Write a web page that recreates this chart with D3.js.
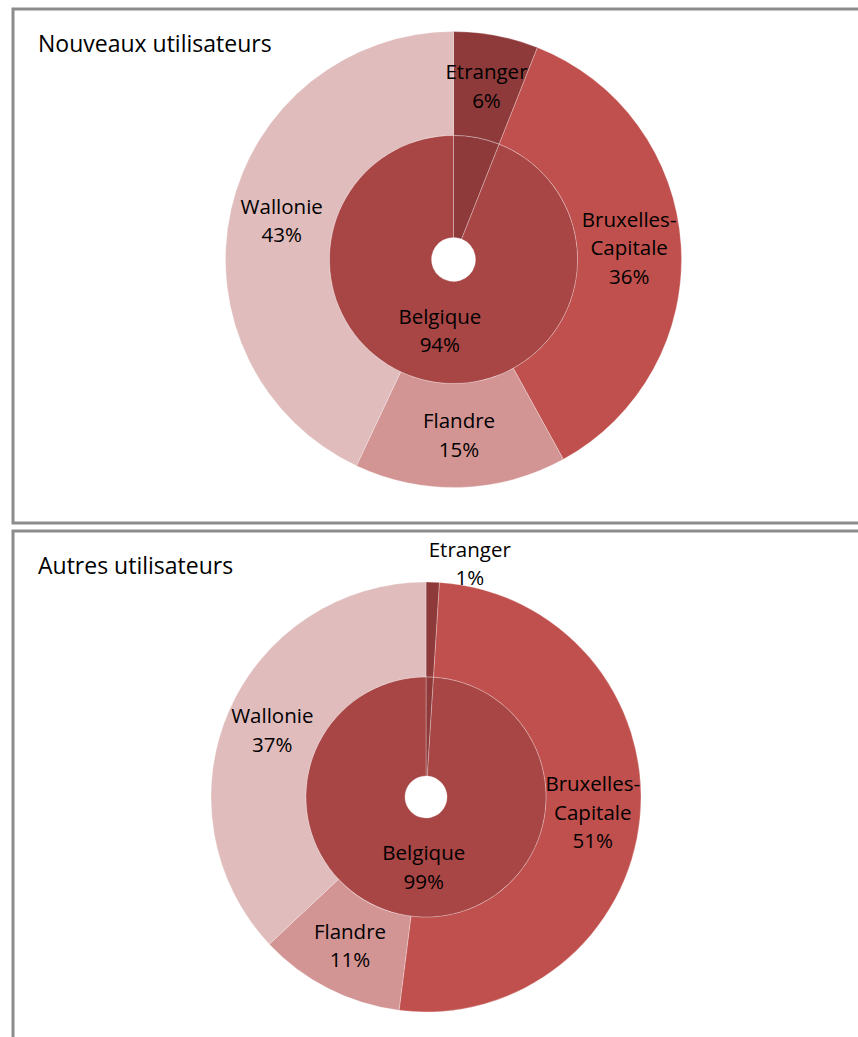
<!DOCTYPE html>
<html>
<head>
<meta charset="utf-8">
<script src="https://cdn.jsdelivr.net/npm/d3@7"></script>
<style>
  body { margin: 0; background: #fff; }
  svg { display: block; }
  text { font-family: "Open Sans", Lato, sans-serif; fill: #000; }
</style>
</head>
<body>
<div class="canvas"></div>
<script>
// page size
const w = 858;
const h = 1037;

// categories
const innerCats = ["Etranger", "Belgique"];
const outerCats = ["Etranger", "Bruxelles-Capitale", "Flandre", "Wallonie"];

// values (%)
const newInner = [6, 94];
const newOuter = [6, 36, 15, 43];
const otherInner = [1, 99];
const otherOuter = [1, 51, 11, 37];

// colors per category
const catColors = {
  "Etranger": "#8e3a3a",
  "Belgique": "#a84545",
  "Bruxelles-Capitale": "#c0504d",
  "Flandre": "#d39494",
  "Wallonie": "#e0bcbc"
};

// panel layouts
const panels = [
  { title: "Nouveaux utilisateurs", inner: newInner, outer: newOuter,
    frame: { x: 13, y: 9, h: 514 }, cx: 453.5, cy: 259.5, rOut: 228, rIn: 124, rHole: 22 },
  { title: "Autres utilisateurs", inner: otherInner, outer: otherOuter,
    frame: { x: 13, y: 531, h: 520 }, cx: 426, cy: 797, rOut: 215, rIn: 120, rHole: 21 }
];

const svg = d3.select(".canvas").append("svg").attr("width", w).attr("height", h);

const pie = d3.pie().sort(null).value(d => d.value);
const lineH = 28.5;

function splitLabel(name) {
  // Bruxelles-Capitale wraps after the hyphen
  return name.includes("-") ? [name.slice(0, name.indexOf("-") + 1), name.slice(name.indexOf("-") + 1)] : [name];
}

function drawLabel(g, x, y, lines) {
  const t = g.append("text")
    .attr("text-anchor", "middle")
    .attr("font-size", 20.5);
  const n = lines.length;
  lines.forEach((l, i) => {
    t.append("tspan")
      .attr("x", x)
      .attr("y", y + (i - (n - 1) / 2) * lineH + 7)
      .text(l);
  });
}

panels.forEach(p => {
  // frame
  svg.append("rect")
    .attr("x", p.frame.x)
    .attr("y", p.frame.y)
    .attr("width", w)
    .attr("height", p.frame.h)
    .attr("fill", "none")
    .attr("stroke", "#8c8c8c")
    .attr("stroke-width", 3);

  // title
  svg.append("text")
    .attr("x", 38)
    .attr("y", p.frame.y + 43)
    .attr("font-size", 23)
    .text(p.title);

  const g = svg.append("g").attr("transform", `translate(${p.cx}, ${p.cy})`);

  const outerData = pie(outerCats.map((c, i) => ({ cat: c, value: p.outer[i] })));
  const innerData = pie(innerCats.map((c, i) => ({ cat: c, value: p.inner[i] })));

  const outerArc = d3.arc().innerRadius(p.rIn).outerRadius(p.rOut);
  const innerArc = d3.arc().innerRadius(p.rHole).outerRadius(p.rIn);

  // outer ring
  g.selectAll("path.outer")
    .data(outerData)
    .enter()
    .append("path")
    .attr("class", "outer")
    .attr("d", outerArc)
    .attr("fill", d => catColors[d.data.cat])
    .attr("stroke", "#fff")
    .attr("stroke-opacity", 0.35)
    .attr("stroke-width", 0.8);

  // inner ring
  g.selectAll("path.inner")
    .data(innerData)
    .enter()
    .append("path")
    .attr("class", "inner")
    .attr("d", innerArc)
    .attr("fill", d => catColors[d.data.cat])
    .attr("stroke", "#fff")
    .attr("stroke-opacity", 0.35)
    .attr("stroke-width", 0.8);

  // outer labels
  outerData.forEach(d => {
    const lines = splitLabel(d.data.cat).concat([d.data.value + "%"]);
    if (d.data.value < 3) {
      // too small: label sits above the ring
      const a = (d.startAngle + d.endAngle) / 2;
      const x = Math.sin(a) * p.rOut + 37;
      const y = -Math.cos(a) * p.rOut - 18;
      drawLabel(g, x, y, lines);
    } else {
      const [x, y] = outerArc.centroid(d);
      drawLabel(g, x, y, lines);
    }
  });

  // inner label (Belgique only)
  innerData.filter(d => d.data.cat === "Belgique").forEach(d => {
    const [x, y] = innerArc.centroid(d);
    drawLabel(g, x, y, [d.data.cat, d.data.value + "%"]);
  });
});
</script>
</body>
</html>
